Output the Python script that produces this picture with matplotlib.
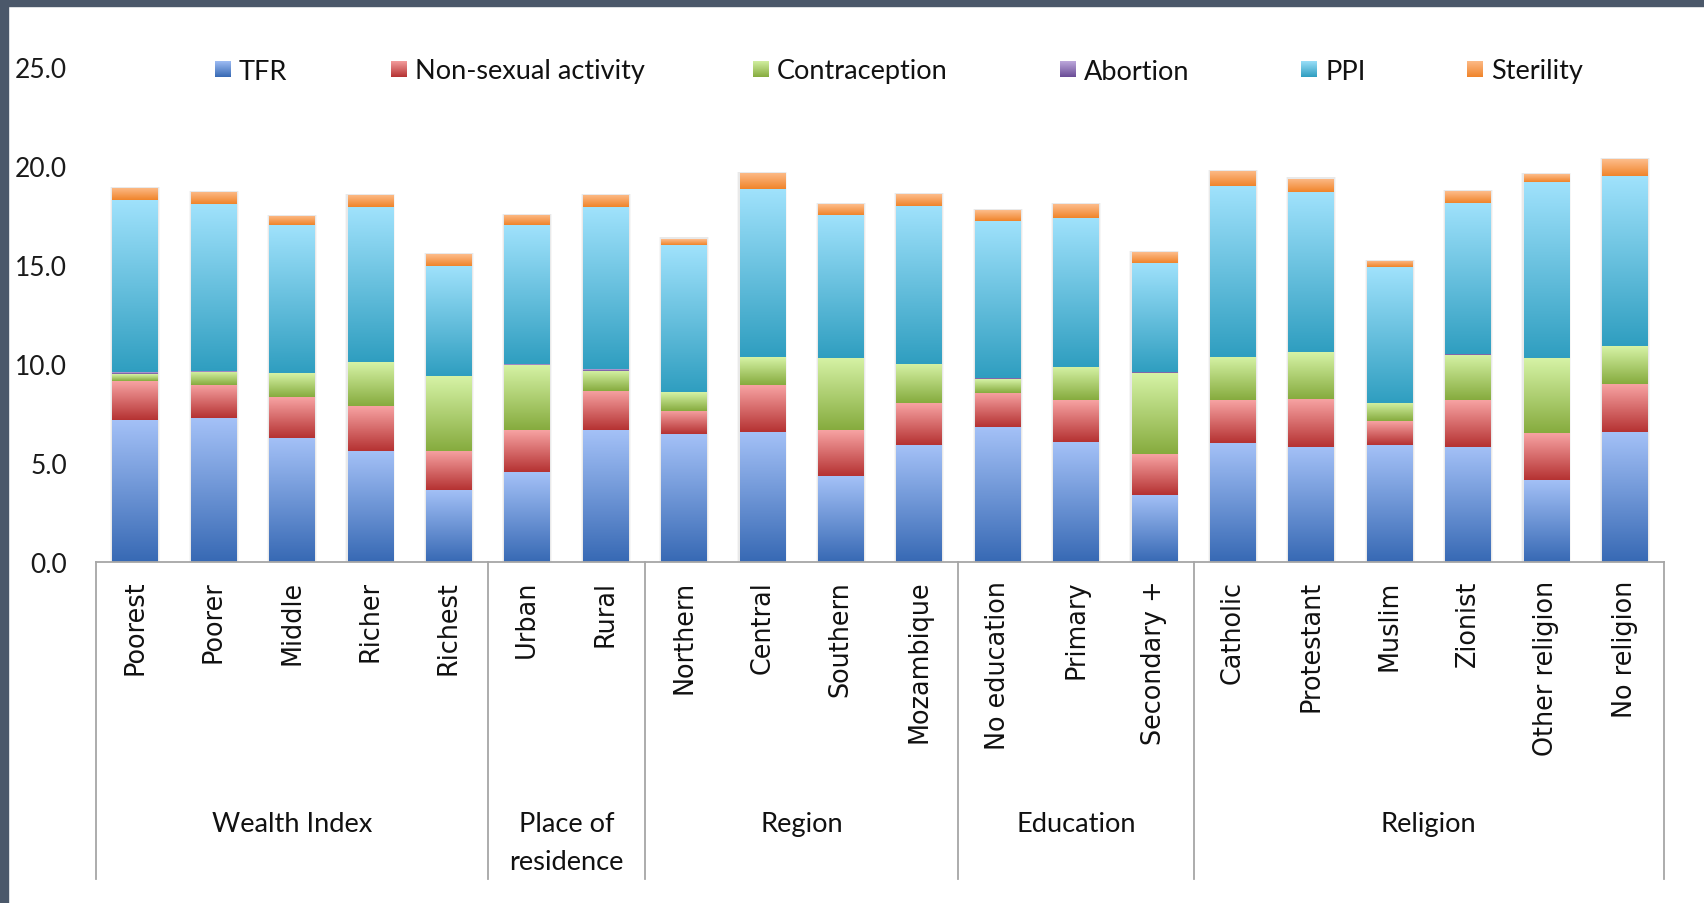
import numpy as np
import matplotlib
matplotlib.use("Agg")
import matplotlib.pyplot as plt
import matplotlib.transforms as mtransforms
from matplotlib.colors import LinearSegmentedColormap
from matplotlib.patches import Rectangle

categories = ["Poorest", "Poorer", "Middle", "Richer", "Richest",
              "Urban", "Rural",
              "Northern", "Central", "Southern", "Mozambique",
              "No education", "Primary", "Secondary +",
              "Catholic", "Protestant", "Muslim", "Zionist", "Other religion", "No religion"]
groups = ["Wealth Index", "Place of\nresidence", "Region", "Education", "Religion"]
group_sizes = [5, 2, 4, 3, 6]

tfr = [7.19, 7.26, 6.28, 5.61, 3.64, 4.53, 6.65, 6.45, 6.58, 4.33, 5.89,
       6.80, 6.04, 3.40, 5.99, 5.83, 5.89, 5.83, 4.16, 6.58]
non_sexual = [1.95, 1.68, 2.04, 2.27, 1.97, 2.12, 1.97, 1.19, 2.36, 2.32, 2.12,
              1.75, 2.12, 2.04, 2.17, 2.42, 1.21, 2.33, 2.36, 2.41]
contraception = [0.35, 0.67, 1.21, 2.20, 3.77, 3.30, 1.04, 0.93, 1.41, 3.64, 1.97,
                 0.68, 1.67, 4.09, 2.19, 2.34, 0.91, 2.28, 3.77, 1.90]
abortion = [0.09, 0.03, 0.03, 0.03, 0.03, 0.03, 0.09, 0.04, 0.02, 0.02, 0.04,
            0.07, 0.03, 0.07, 0.02, 0.03, 0.03, 0.06, 0.02, 0.03]
ppi = [8.70, 8.42, 7.44, 7.80, 5.56, 7.02, 8.16, 7.42, 8.45, 7.23, 7.98,
       7.94, 7.53, 5.52, 8.60, 8.05, 6.84, 7.65, 8.88, 8.57]
sterility = [0.61, 0.61, 0.46, 0.61, 0.60, 0.53, 0.61, 0.30, 0.84, 0.52, 0.59,
             0.54, 0.67, 0.54, 0.76, 0.69, 0.32, 0.60, 0.39, 0.85]

series = [tfr, non_sexual, contraception, abortion, ppi, sterility]
series_names = ["TFR", "Non-sexual activity", "Contraception", "Abortion", "PPI", "Sterility"]
# (bottom, top) colours of each gradient fill
shades = [("#3769b4", "#a4c1f7"),
          ("#b53232", "#f7a3a3"),
          ("#86ab3e", "#d6f3a6"),
          ("#6a4c96", "#c2aee0"),
          ("#2f9ec0", "#a0e2fc"),
          ("#f0842a", "#fdbd8c")]
legend_x = [215, 391, 753, 1060, 1301, 1467]

W, H = 1704, 904
fig = plt.figure(figsize=(W / 100, H / 100), dpi=100)
fig.patch.set_facecolor("white")

# dark frame strips along top and left edge
fig.patches.append(Rectangle((0, 1 - 7 / H), 1, 7 / H, transform=fig.transFigure,
                             color="#4b586a", zorder=0))
fig.patches.append(Rectangle((0, 0), 8 / W, 1, transform=fig.transFigure,
                             color="#4b586a", zorder=0))

ax = fig.add_axes([96 / W, 1 - 563 / H, (1664 - 96) / W, (563 - 68) / H])

x = np.arange(len(categories))
gradient = np.linspace(0, 1, 256).reshape(-1, 1)
cmaps = [LinearSegmentedColormap.from_list(n, c) for n, c in zip(series_names, shades)]

# soft shadow behind each stack
totals = np.sum(series, axis=0)
for w, a in [(0.64, 0.035), (0.61, 0.05)]:
    ax.bar(x, totals + 0.06, w, color="black", alpha=a, linewidth=0, zorder=1)

bottom = np.zeros(len(categories))
for vals, cmap in zip(series, cmaps):
    vals = np.array(vals)
    bars = ax.bar(x, vals, 0.58, bottom=bottom, color="none", linewidth=0)
    for b in bars:
        x0, y0 = b.get_x(), b.get_y()
        img = ax.imshow(gradient, cmap=cmap, origin="lower", aspect="auto",
                        extent=(x0, x0 + b.get_width(), y0, y0 + b.get_height()),
                        zorder=2, interpolation="bilinear")
        img.set_clip_path(b)
    bottom += vals

ax.set_xlim(-0.5, len(categories) - 0.5)
ax.set_ylim(0, 25)
ax.set_yticks(np.arange(0, 25.1, 5))
ax.set_yticklabels([f"{v:.1f}" for v in np.arange(0, 25.1, 5)])
ax.tick_params(axis="y", length=0, pad=21, labelsize=19, labelcolor="#1a1a1a")
for lbl in ax.get_yticklabels():
    lbl.set_family("Lato")
ax.set_xticks([])
for s in ["top", "right", "left"]:
    ax.spines[s].set_visible(False)
ax.spines["bottom"].set_color("#a6a6a6")
ax.spines["bottom"].set_linewidth(1.3)
ax.spines["bottom"].set_zorder(3)

trans = mtransforms.blended_transform_factory(ax.transData, ax.transAxes)

# category names, rotated
for xi, name in zip(x, categories):
    ax.text(xi, -0.036, name, transform=trans, rotation=90, ha="center", va="top",
            fontsize=18.4, family="DejaVu Sans", color="#111111")

# group separators and group names
edges = np.concatenate([[0], np.cumsum(group_sizes)]) - 0.5
for e in edges:
    ax.plot([e, e], [0, -0.64], transform=trans, color="#a6a6a6", lw=1.3,
            clip_on=False)
for g, lo, hi in zip(groups, edges[:-1], edges[1:]):
    ax.text((lo + hi) / 2, -0.503, g, transform=trans, ha="center", va="top",
            fontsize=19.6, family="Lato", color="#111111", linespacing=1.65)

# legend row
for name, cmap, lx in zip(series_names, cmaps, legend_x):
    key = fig.add_axes([lx / W, 1 - 78 / H, 16 / W, 16 / H])
    key.imshow(gradient, cmap=cmap, origin="lower", aspect="auto")
    key.axis("off")
    fig.text((lx + 24) / W, 1 - 72 / H, name, ha="left", va="center",
             fontsize=19.5, family="Lato", color="#111111")

fig.savefig("out.png", dpi=100, facecolor="white")
